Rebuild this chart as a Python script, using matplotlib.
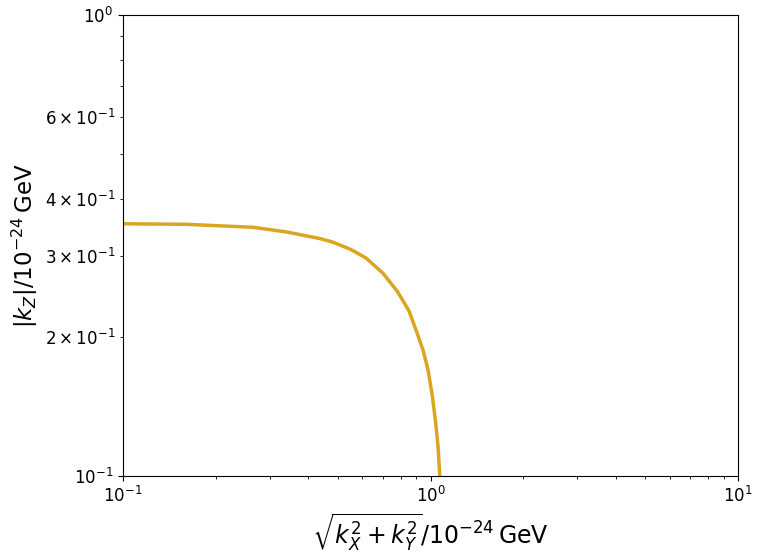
import matplotlib
matplotlib.use("Agg")
import matplotlib.pyplot as plt

k_perp = [0.100, 0.1608, 0.2647, 0.340, 0.3756, 0.4362, 0.4818, 0.55, 0.6186, 0.7005,
          0.78, 0.85, 0.90, 0.9454, 0.9815, 1.0144, 1.0397,
          1.0578, 1.0715, 1.075]
k_z = [0.3526, 0.3516, 0.3464, 0.3384, 0.3340, 0.3275, 0.3215, 0.3102, 0.2967, 0.2753,
       0.2515, 0.2285, 0.2060, 0.1876, 0.1698, 0.1486, 0.1301,
       0.1158, 0.1005, 0.095]

fig = plt.figure(figsize=(7.6, 5.59), dpi=100)
ax = fig.add_axes([0.162, 0.1485, 0.809, 0.8245])
ax.plot(k_perp, k_z, color="#DAA520", lw=2.5)
ax.set_xscale("log")
ax.set_yscale("log")
ax.set_xlim(0.1, 10)
ax.set_ylim(0.1, 1)
ax.tick_params(axis="both", which="both", labelsize=12)
ax.set_xlabel(r"$\sqrt{k_X^2+k_Y^2}/10^{-24}\,\mathrm{GeV}$", fontsize=17)
ax.set_ylabel(r"$|k_Z|/10^{-24}\,\mathrm{GeV}$", fontsize=16.5)
fig.savefig("out.png", dpi=100)
